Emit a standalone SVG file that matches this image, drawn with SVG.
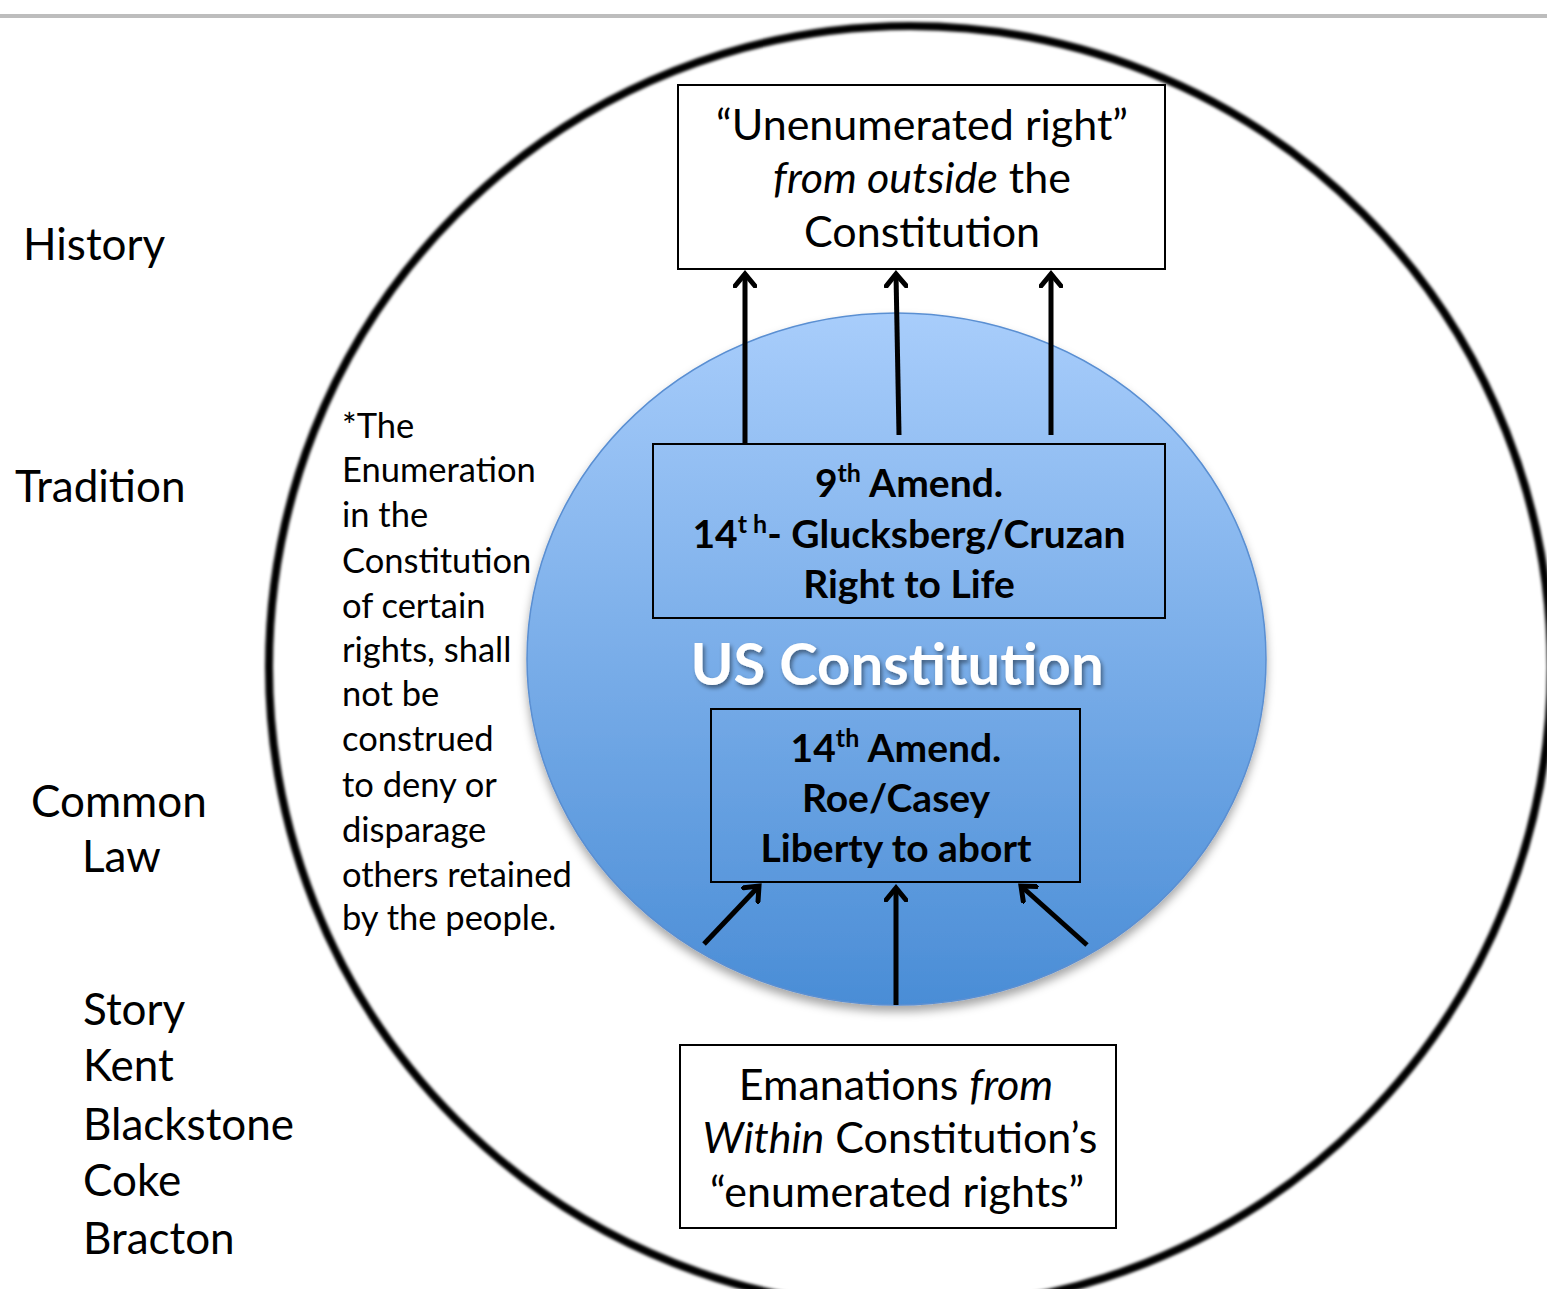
<svg xmlns="http://www.w3.org/2000/svg" width="1547" height="1289" viewBox="0 0 1547 1289">
<defs>
<linearGradient id="blue" x1="0" y1="0" x2="0" y2="1">
<stop offset="0" stop-color="#a8cdfb"/>
<stop offset="1" stop-color="#4a8dd6"/>
</linearGradient>
<filter id="sh" x="-10%" y="-10%" width="120%" height="125%">
<feDropShadow dx="0" dy="6" stdDeviation="5" flood-color="#000" flood-opacity="0.35"/>
</filter>
<filter id="tsh" x="-5%" y="-20%" width="110%" height="140%">
<feDropShadow dx="2" dy="3" stdDeviation="2" flood-color="#000" flood-opacity="0.45"/>
</filter>
<filter id="blur"><feGaussianBlur stdDeviation="1.5"/></filter>
<marker id="ah" markerUnits="userSpaceOnUse" viewBox="-14 -12 28 24" markerWidth="28" markerHeight="24" refX="0" refY="0" orient="auto">
<path d="M-12,-10 L0,0 L-12,10" fill="none" stroke="#000" stroke-width="5" stroke-linecap="round" stroke-linejoin="miter"/>
</marker>
</defs>
<style>
text{font-family:Lato,"Open Sans","Liberation Sans",sans-serif;fill:#000}
.big{font-size:43px}
.side{font-size:44px}
.note{font-size:34.5px}
.bold{font-size:39px;font-weight:bold;text-anchor:middle}
.box{fill:#fff;stroke:#000;stroke-width:2}
.ibox{fill:none;stroke:#000;stroke-width:2}
.mid{text-anchor:middle}
.conn line{stroke:#000;stroke-width:5;marker-end:url(#ah)}
</style>
<rect width="1547" height="1289" fill="#fff"/>
<line x1="0" y1="16" x2="1547" y2="16" stroke="#bdbdbd" stroke-width="4"/>
<g id="outer-circle">
<ellipse cx="910" cy="667" rx="641" ry="641" fill="none" stroke="#000" stroke-width="8" filter="url(#blur)"/>
</g>
<g id="us-constitution">
<ellipse cx="896.5" cy="659" rx="369.5" ry="346" fill="url(#blue)" stroke="#5a8fd2" stroke-width="1.5" filter="url(#sh)"/>
<text x="897" y="685" class="mid" font-size="58" font-weight="bold" fill="#fff" style="fill:#fff" filter="url(#tsh)">US Constitution</text>
</g>
<g id="unenumerated">
<rect x="678" y="85" width="487" height="184" class="box"/>
<text x="922" y="140" class="big mid">“Unenumerated right”</text>
<text x="922" y="193" class="big mid"><tspan font-style="italic">from outside</tspan> the</text>
<text x="922" y="247" class="big mid">Constitution</text>
</g>
<g id="ninth">
<rect x="653" y="444" width="512" height="174" class="ibox"/>
<text x="909" y="497" class="bold">9<tspan font-size="25" dy="-15">th</tspan><tspan dy="15"> Amend.</tspan></text>
<text x="909" y="548" class="bold">14<tspan font-size="25" dy="-15">t h</tspan><tspan dy="15">- Glucksberg/Cruzan</tspan></text>
<text x="909" y="598" class="bold">Right to Life</text>
</g>
<g id="fourteenth">
<rect x="711" y="709" width="369" height="173" class="ibox"/>
<text x="896" y="762" class="bold">14<tspan font-size="25" dy="-15">th</tspan><tspan dy="15"> Amend.</tspan></text>
<text x="896" y="812" class="bold">Roe/Casey</text>
<text x="896" y="862" class="bold">Liberty to abort</text>
</g>
<g id="emanations">
<rect x="680" y="1045" width="436" height="183" class="box"/>
<text x="896" y="1100" class="big mid">Emanations <tspan font-style="italic">from</tspan></text>
<text x="900" y="1153" class="big mid"><tspan font-style="italic">Within</tspan> Constitution’s</text>
<text x="897" y="1207" class="big mid">“enumerated rights”</text>
</g>
<g id="side-labels" class="side">
<text x="23" y="260" class="side">History</text>
<text x="15" y="502" class="side">Tradition</text>
<text x="31" y="817" class="side">Common</text>
<text x="82" y="872" class="side">Law</text>
<text x="83" y="1025" class="side">Story</text>
<text x="83" y="1081" class="side">Kent</text>
<text x="83" y="1140" class="side">Blackstone</text>
<text x="83" y="1196" class="side">Coke</text>
<text x="83" y="1254" class="side">Bracton</text>
</g>
<g id="ninth-note" class="note">
<text x="342" y="438" class="note">*The</text>
<text x="342" y="482" class="note">Enumeration</text>
<text x="342" y="527" class="note">in the</text>
<text x="342" y="573" class="note">Constitution</text>
<text x="342" y="618" class="note">of certain</text>
<text x="342" y="662" class="note">rights, shall</text>
<text x="342" y="706" class="note">not be</text>
<text x="342" y="751" class="note">construed</text>
<text x="342" y="797" class="note">to deny or</text>
<text x="342" y="842" class="note">disparage</text>
<text x="342" y="887" class="note">others retained</text>
<text x="342" y="930" class="note">by the people.</text>
</g>
<g id="connectors" class="conn">
<line x1="745" y1="443" x2="745" y2="274"/>
<line x1="899" y1="435" x2="896" y2="274"/>
<line x1="1051" y1="435" x2="1051" y2="274"/>
<line x1="704" y1="944" x2="759" y2="886"/>
<line x1="896" y1="1005" x2="896" y2="888"/>
<line x1="1087" y1="945" x2="1021" y2="886"/>
</g>
</svg>
